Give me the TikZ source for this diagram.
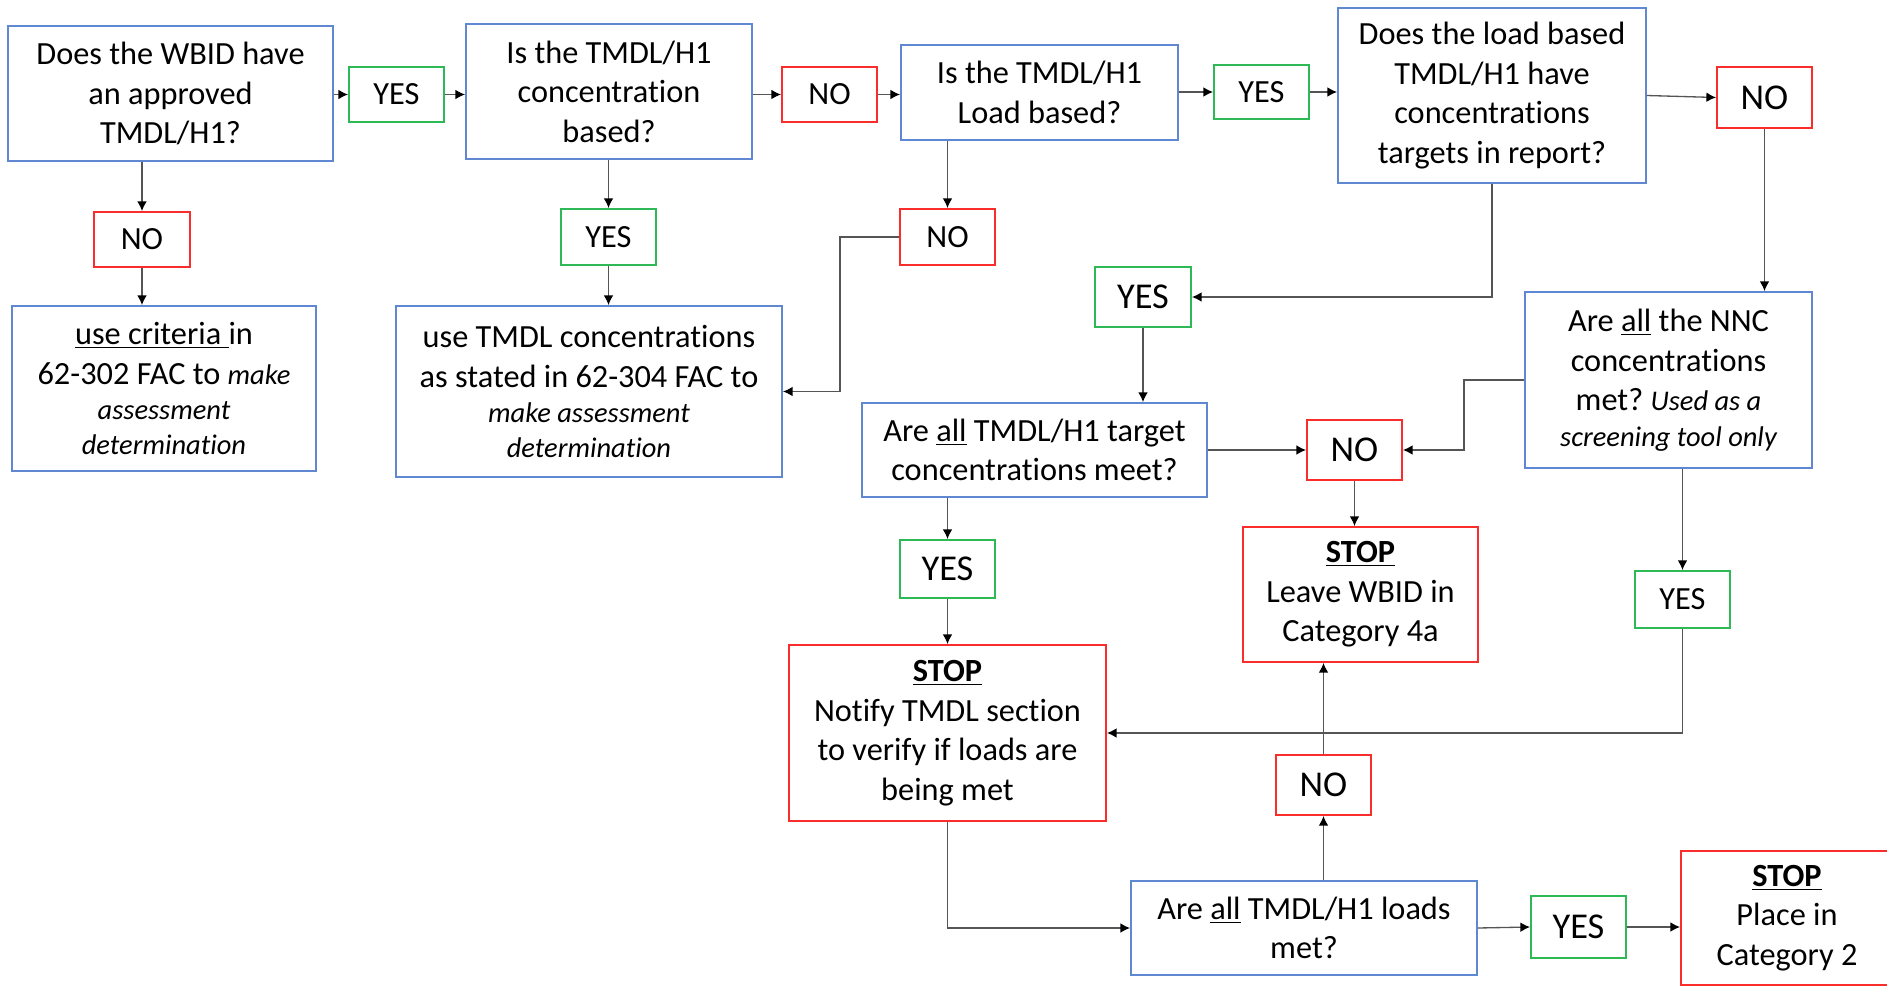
\documentclass[tikz,border=0pt]{standalone}
\usepackage{fontspec}
\setmainfont{Carlito}[Ligatures={NoCommon,NoRare,NoContextual},Contextuals=NoAlternate]
\usetikzlibrary{arrows.meta}
\definecolor{bxblue}{RGB}{95,135,210}
\definecolor{bxgreen}{RGB}{45,185,85}
\definecolor{bxred}{RGB}{250,45,45}
\definecolor{lncol}{RGB}{85,85,85}
\frenchspacing
\newcommand{\nt}{\fontsize{18.4}{22.5}\selectfont}
\newcommand{\bign}{\fontsize{20.7}{25}\selectfont}
\newcommand{\smit}[1]{{\fontsize{16.2}{19.8}\selectfont\itshape #1}}
\newcommand{\stoptxt}{\textbf{\underline{STOP}}}
\begin{document}
\begin{tikzpicture}[x=0.02cm, y=-0.02cm,
  base/.style={draw, line width=1.1pt, inner sep=0pt, align=center, font=\nt, text=black},
  qbox/.style={base, draw=bxblue},
  ybox/.style={base, draw=bxgreen},
  nbox/.style={base, draw=bxred},
  big/.style={font=\bign},
  wh/.style 2 args={minimum width=#1*0.02cm, minimum height=#2*0.02cm},
  arr/.style={draw=lncol, line width=0.75pt, -{Latex[length=5.5pt,width=5.5pt,color=black]}}
]
\useasboundingbox (0,0) rectangle (1887,987);

% row 1
\node[qbox, wh={325}{135}] (Q1) at (170.5,93.5) {Does the WBID have\\an approved\\TMDL/H1?};
\node[ybox, wh={95}{55}] (Y1) at (396.5,94.5) {YES};
\node[qbox, wh={286}{135}] (Q2) at (609,91.5) {Is the TMDL/H1\\concentration\\based?};
\node[nbox, wh={95}{55}] (N1) at (829.5,94.5) {NO};
\node[qbox, wh={277}{95}] (Q3) at (1039.5,92.5) {Is the TMDL/H1\\Load based?};
\node[ybox, wh={95}{54}] (Y2) at (1261.5,92) {YES};
\node[qbox, wh={308}{175}] (Q4) at (1492,95.5) {Does the load based\\TMDL/H1 have\\concentrations\\targets in report?};
\node[nbox, big, wh={95}{61}] (N2) at (1764.5,97.5) {NO};

% row 2
\node[nbox, wh={96}{55}] (N3) at (142,239.5) {NO};
\node[ybox, wh={95}{56}] (Y3) at (608.5,237) {YES};
\node[nbox, wh={95}{56}] (N4) at (947.5,237) {NO};
\node[qbox, wh={304}{165}] (CR) at (164,388.5) {\underline{use criteria\ }in\\62-302 FAC to \smit{make}\\[-2.3pt]\smit{assessment}\\[-3pt]\smit{determination}};
\node[qbox, wh={386}{171}] (UT) at (589,391.5) {use TMDL concentrations\\as stated in 62-304 FAC to\\[-2.3pt]\smit{make assessment}\\[-3pt]\smit{determination}};
\node[ybox, big, wh={96}{60}] (Y4) at (1143,297) {YES};
\node[qbox, wh={287}{176}] (NNC) at (1668.5,380) {Are \underline{all} the NNC\\concentrations\\met? \smit{Used as a}\\[-2.3pt]\smit{screening tool only}};

% row 3
\node[qbox, wh={345}{94}] (Q5) at (1034.5,450) {Are \underline{all} TMDL/H1 target\\concentrations meet?};
\node[nbox, big, wh={95}{60}] (N5) at (1354.5,450) {NO};
\node[nbox, wh={235}{135}] (LV) at (1360.5,594.5) {\stoptxt\\Leave WBID in\\Category 4a};
\node[ybox, big, wh={95}{58}] (Y5) at (947.5,569) {YES};
\node[ybox, wh={95}{57}] (Y6) at (1682.5,599.5) {YES};
\node[nbox, wh={317}{176}] (NT) at (947.5,733) {\stoptxt\\Notify TMDL section\\to verify if loads are\\being met};
\node[nbox, big, wh={95}{60}] (N6) at (1323.5,785) {NO};
\node[qbox, wh={346}{94}] (Q6) at (1304,928) {Are \underline{all} TMDL/H1 loads\\met?};
\node[ybox, big, wh={95}{62}] (Y7) at (1578.5,927) {YES};
\node[nbox, wh={212}{134}] (PL) at (1787,918) {\stoptxt\\Place in\\Category 2};

% connectors
\draw[arr] (Q1.east |- Y1.west) -- (Y1.west);
\draw[arr] (Y1.east) -- (Y1.east -| Q2.west);
\draw[arr] (Q2.east |- N1.west) -- (N1.west);
\draw[arr] (N1.east) -- (N1.east -| Q3.west);
\draw[arr] (Q3.east |- Y2.west) -- (Y2.west);
\draw[arr] (Y2.east) -- (Y2.east -| Q4.west);
\draw[arr] (Q4.east) -- (N2.west);
\draw[arr] (N2.south) -- (N2.south |- NNC.north);

\draw[arr] (Q1.south -| N3.north) -- (N3.north);
\draw[arr] (N3.south) -- (N3.south |- CR.north);
\draw[arr] (Q2.south -| Y3.north) -- (Y3.north);
\draw[arr] (Y3.south) -- (Y3.south |- UT.north);
\draw[arr] (Q3.south -| N4.north) -- (N4.north);
\draw[arr] (N4.west) -- ++(-59,0) |- (UT.east);

\draw[arr] (Q4.south) |- (Y4.east);
\draw[arr] (Y4.south) -- (Y4.south |- Q5.north);
\draw[arr] (Q5.east) -- (N5.west);
\draw[arr] (NNC.west) -- ++(-60,0) |- (N5.east);
\draw[arr] (N5.south) -- (N5.south |- LV.north);
\draw[arr] (Q5.south -| Y5.north) -- (Y5.north);
\draw[arr] (Y5.south) -- (NT.north);
\draw[arr] (NNC.south -| Y6.north) -- (Y6.north);
\draw[arr] (Y6.south) |- (NT.east);
\draw[arr] (NT.south) |- (Q6.west);
\draw[arr] (Q6.north -| N6.south) -- (N6.south);
\draw[arr] (N6.north) -- (N6.north |- LV.south);
\draw[arr] (Q6.east) -- (Y7.west);
\draw[arr] (Y7.east) -- (Y7.east -| PL.west);
\end{tikzpicture}
\end{document}
